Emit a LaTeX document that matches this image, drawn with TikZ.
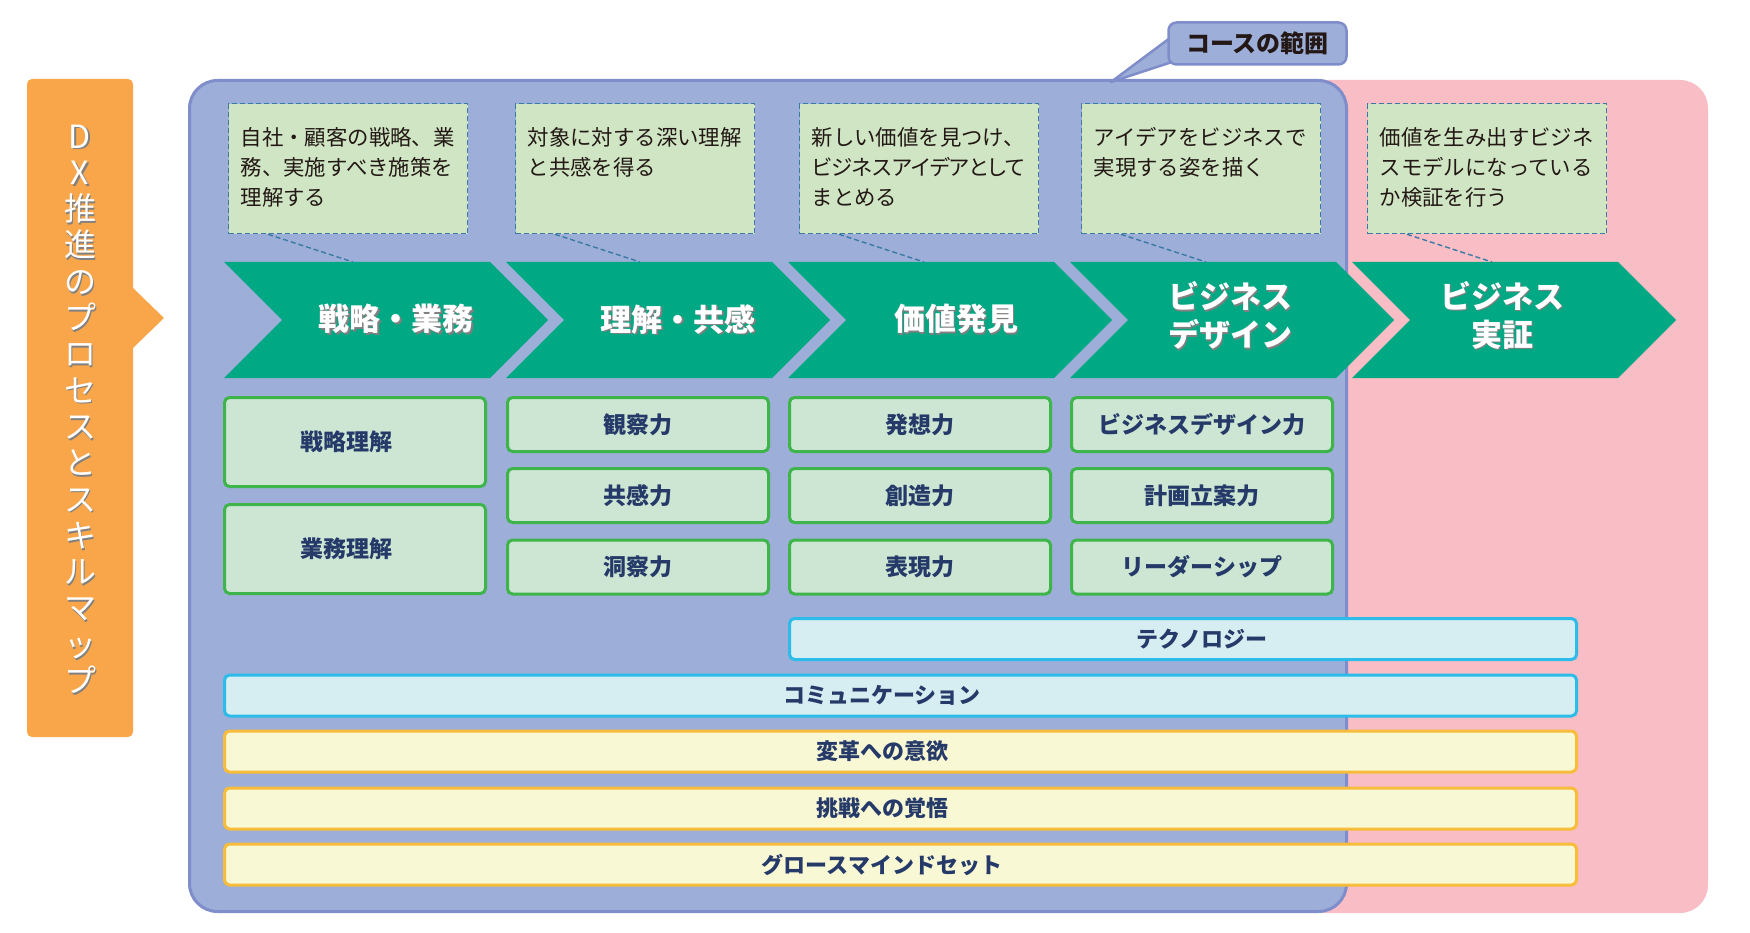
\documentclass[tikz,border=0pt]{standalone}
\usepackage{fontspec}
\setmainfont{Noto Sans CJK JP}
\newfontfamily\propjp[RawFeature=+palt]{Noto Sans CJK JP}
\definecolor{panelblue}{HTML}{9DAED8}
\definecolor{panelline}{HTML}{7F8DCA}
\definecolor{pinkzone}{HTML}{F9BDC5}
\definecolor{dxorange}{HTML}{F9A64B}
\definecolor{chevgreen}{HTML}{00A884}
\definecolor{notefill}{HTML}{CFE5C3}
\definecolor{noteline}{HTML}{3A7AA3}
\definecolor{skillfill}{HTML}{CCE6D3}
\definecolor{skillline}{HTML}{3DB54A}
\definecolor{techfill}{HTML}{D6EEF2}
\definecolor{techline}{HTML}{2BBCE9}
\definecolor{mindfill}{HTML}{F8F8D5}
\definecolor{mindline}{HTML}{F6BC3A}
\definecolor{navy}{HTML}{253A68}
\definecolor{ink}{HTML}{231815}
\newcommand{\shd}[1]{\leavevmode\rlap{\kern1.8pt\raisebox{-1.8pt}{\textcolor{black!50}{#1}}}#1}
\newcommand{\notetext}[1]{\parbox[t][130pt][t]{215pt}{\rule{0pt}{42pt}#1}}
\begin{document}
\begin{tikzpicture}[x=1pt,y=-1pt,
    note/.style={draw=noteline,fill=notefill,line width=1.3pt,dash pattern=on 5pt off 3pt,
      anchor=north west,inner xsep=12pt,inner ysep=0pt,text=ink,
      font=\fontsize{21.4pt}{30pt}\selectfont},
    link/.style={draw=noteline,line width=1.4pt,dash pattern=on 5pt off 3pt},
    chev/.style={fill=chevgreen},
    chevtext/.style={text=white,align=center,font=\bfseries\fontsize{31pt}{38pt}\selectfont},
    skill/.style={draw=skillline,fill=skillfill,line width=3pt,rounded corners=5pt,
      minimum width=261pt,minimum height=54pt,text=navy,
      font=\bfseries\fontsize{23pt}{23pt}\selectfont},
    tall/.style={skill,minimum height=89pt},
    tech/.style={draw=techline,fill=techfill,line width=3pt,rounded corners=5pt,
      minimum height=41pt,text=navy,font=\bfseries\fontsize{22pt}{22pt}\selectfont},
    mind/.style={tech,draw=mindline,fill=mindfill}]
      \useasboundingbox (0,0) rectangle (1750,933);
      % left label
      \fill[dxorange,rounded corners=5pt] (27,79) rectangle (133,737);
      \fill[dxorange] (132,287) -- (164,318) -- (132,349) -- cycle;
      \node[text=white,align=center,font=\fontsize{32pt}{36.3pt}\selectfont] (dx) at (80,410)
        {\shd{D}\\\shd{X}\\\shd{推}\\\shd{進}\\\shd{の}\\\shd{プ}\\\shd{ロ}\\\shd{セ}\\
         \shd{ス}\\\shd{と}\\\shd{ス}\\\shd{キ}\\\shd{ル}\\\shd{マ}\\\shd{ッ}\\\shd{プ}};
      % areas
      \fill[pinkzone,rounded corners=28pt] (1300,80) rectangle (1708,913);
      \filldraw[fill=panelblue,draw=panelline,line width=3pt,rounded corners=28pt]
        (189.5,80.5) rectangle (1346.5,911.5);
      \filldraw[fill=panelblue,draw=panelline,line width=2.5pt,line join=round]
        (1170,38) -- (1111,82) -- (1172,62) -- cycle;
      \node[fill=panelblue,draw=panelline,line width=2.5pt,rounded corners=8pt,
        minimum width=178pt,minimum height=42pt,text=ink,
        font=\bfseries\fontsize{24pt}{24pt}\selectfont] (range) at (1257.5,43.5) {コースの範囲};
      % notes
      \path
        (228,103) node[note] (d1) {\notetext{自社・顧客の戦略、業\\務、実施すべき施策を\\理解する}}
        (515,103) node[note] (d2) {\notetext{対象に対する深い理解\\と共感を得る}}
        (799,103) node[note] (d3) {\notetext{新しい価値を見つけ、\\{\propjp ビジネスアイデアとして}\\まとめる}}
        (1081,103) node[note] (d4) {\notetext{アイデアをビジネスで\\実現する姿を描く}}
        (1367,103) node[note] (d5) {\notetext{価値を生み出すビジネ\\スモデルになっている\\か検証を行う}};
      % process steps
      \fill[chev] (224,262) -- (490,262) -- (548,320) -- (490,378) -- (224,378) -- (282,320) -- cycle;
      \fill[chev] (506,262) -- (772,262) -- (830,320) -- (772,378) -- (506,378) -- (564,320) -- cycle;
      \fill[chev] (788,262) -- (1054,262) -- (1112,320) -- (1054,378) -- (788,378) -- (846,320) -- cycle;
      \fill[chev] (1070,262) -- (1336,262) -- (1394,320) -- (1336,378) -- (1070,378) -- (1128,320) -- cycle;
      \fill[chev] (1352,262) -- (1618,262) -- (1676,320) -- (1618,378) -- (1352,378) -- (1410,320) -- cycle;
      \coordinate (k1) at (353,262);
      \coordinate (k2) at (640,262);
      \coordinate (k3) at (924,262);
      \coordinate (k4) at (1206,262);
      \coordinate (k5) at (1492,262);
      \path
        (396,320) node[chevtext] (c1) {\shd{戦略・業務}}
        (678,320) node[chevtext] (c2) {\shd{理解・共感}}
        (956,320) node[chevtext] (c3) {\shd{価値発見}}
        (1230,316) node[chevtext] (c4) {\shd{ビジネス}\\\shd{デザイン}}
        (1502,316) node[chevtext] (c5) {\shd{ビジネス}\\\shd{実証}};
      \begin{scope}[link]
        \draw ([xshift=40pt]d1.south west) to (k1);
        \draw ([xshift=40pt]d2.south west) to (k2);
        \draw ([xshift=40pt]d3.south west) to (k3);
        \draw ([xshift=40pt]d4.south west) to (k4);
        \draw ([xshift=40pt]d5.south west) to (k5);
      \end{scope}
      % skills
      \path
        (355,442) node[tall] (s1) {戦略理解\hspace*{18pt}}
        (355,549) node[tall] (s2) {業務理解\hspace*{18pt}}
        (638,424.5) node[skill] (s3) {観察力}
        (638,495.5) node[skill] (s4) {共感力}
        (638,567) node[skill] (s5) {洞察力}
        (920,424.5) node[skill] (s6) {発想力}
        (920,495.5) node[skill] (s7) {創造力}
        (920,567) node[skill] (s8) {表現力}
        (1202,424.5) node[skill] (s9) {ビジネスデザイン力}
        (1202,495.5) node[skill] (s10) {計画立案力}
        (1202,567) node[skill] (s11) {リーダーシップ};
      % common skills
      \path
        (1183,639) node[tech,minimum width=787pt] (b1) {\hspace*{38pt}テクノロジー}
        (900.5,695.5) node[tech,minimum width=1352pt] (b2) {コミュニケーション\hspace*{37pt}}
        (900.5,751.5) node[mind,minimum width=1352pt] (b3) {変革への意欲\hspace*{37pt}}
        (900.5,808.5) node[mind,minimum width=1352pt] (b4) {挑戦への覚悟\hspace*{37pt}}
        (900.5,864.5) node[mind,minimum width=1352pt] (b5) {グロースマインドセット\hspace*{37pt}};
    \end{tikzpicture}
\end{document}
